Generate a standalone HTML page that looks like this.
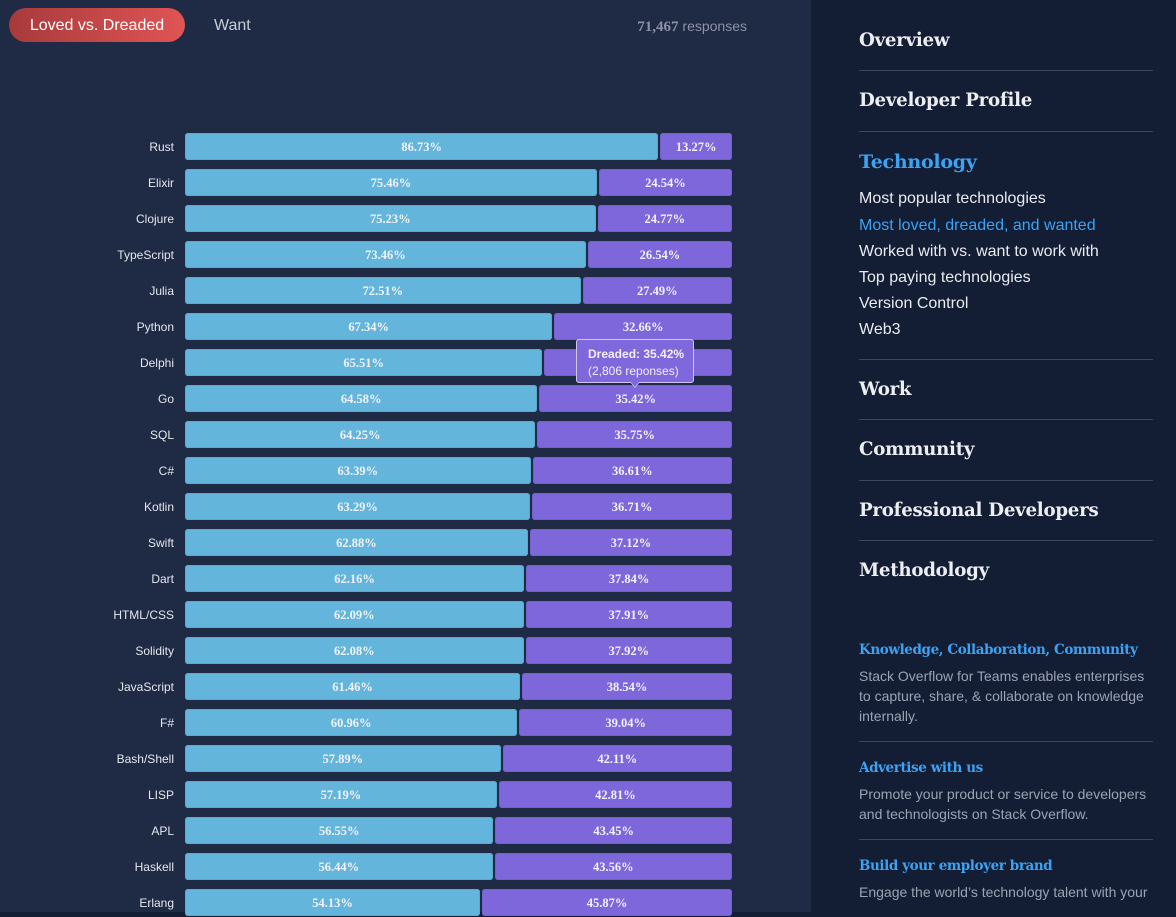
<!DOCTYPE html>
<html><head><meta charset="utf-8">
<style>
*{margin:0;padding:0;box-sizing:border-box}
html,body{width:1176px;height:912px;overflow:hidden;background:#131d34;font-family:"Liberation Sans",sans-serif}
#left{position:absolute;left:0;top:0;width:811px;height:912px;background:#1f2a45}
#right{position:absolute;left:811px;top:0;width:365px;height:912px;background:#131d34}
.pill{position:absolute;left:9px;top:8px;width:176px;height:34px;border-radius:17px;background:linear-gradient(90deg,#a83a3c,#e05454);color:#fff;font-size:16px;line-height:35px;text-align:center}
.want{position:absolute;left:214px;top:8px;line-height:35px;font-size:16px;color:#c9ccd4}
.resp{position:absolute;right:429px;top:16px;line-height:20px;font-size:14px;color:#8b93a4}
.resp b{font-family:"Liberation Serif",serif;font-size:15px}
.r{position:absolute;left:0;height:27px;width:811px}
.lb{position:absolute;left:0;width:174px;text-align:right;font-size:12px;line-height:28px;color:#e4e7ee}
.bars{position:absolute;left:185px;width:547px;height:27px;display:flex}
.lv,.dr{height:27px;border-radius:3px;color:#f2f3f8;font-family:"Liberation Serif",serif;font-weight:bold;font-size:12.5px;line-height:28px;text-align:center;white-space:nowrap;overflow:hidden}
.lv{background:#64b5dc;box-shadow:inset 0 0 0 1px #5aa8d0;margin-right:2px}
.dr{background:#7e67db;box-shadow:inset 0 0 0 1px #7560cc;flex:1}
.tip{position:absolute;left:576px;top:339px;width:118px;height:44px;background:#7f68dc;border:1px solid #cfc7f2;border-radius:3px;color:#f2f0fb;font-size:12px;padding:6px 0 0 11px;line-height:17px}
.tip b{font-weight:bold}
.arr{position:absolute;left:630px;top:382px;width:0;height:0;border-left:5px solid transparent;border-right:5px solid transparent;border-top:6px solid #cfc7f2}
.arr2{position:absolute;left:631px;top:382px;width:0;height:0;border-left:4px solid transparent;border-right:4px solid transparent;border-top:5px solid #7f68dc}
.h{position:absolute;left:859px;font-family:"DejaVu Serif",serif;font-weight:bold;font-size:18.2px;letter-spacing:-0.25px;color:#eceef2;line-height:24px;white-space:nowrap}
.blue{color:#3ca3f4}
.s{position:absolute;left:859px;font-size:16px;line-height:20px;color:#e9ebef;white-space:nowrap}
.hr{position:absolute;left:859px;width:294px;height:1px;background:#3a4762}
.bt{position:absolute;left:859px;font-family:"DejaVu Serif",serif;font-weight:bold;font-size:13.5px;letter-spacing:-0.4px;color:#3ca3f4;line-height:20px;white-space:nowrap}
.d{position:absolute;left:859px;font-size:14px;line-height:20px;color:#9ba3b3;white-space:nowrap}
</style></head><body>
<div id="left"></div><div id="right"></div>
<div class="pill">Loved vs. Dreaded</div>
<div class="want">Want</div>
<div class="resp"><b>71,467</b> responses</div>

<div class="r" style="top:133px"><span class="lb">Rust</span><div class="bars"><div class="lv" style="width:calc(86.73% - 1px)">86.73%</div><div class="dr">13.27%</div></div></div>
<div class="r" style="top:169px"><span class="lb">Elixir</span><div class="bars"><div class="lv" style="width:calc(75.46% - 1px)">75.46%</div><div class="dr">24.54%</div></div></div>
<div class="r" style="top:205px"><span class="lb">Clojure</span><div class="bars"><div class="lv" style="width:calc(75.23% - 1px)">75.23%</div><div class="dr">24.77%</div></div></div>
<div class="r" style="top:241px"><span class="lb">TypeScript</span><div class="bars"><div class="lv" style="width:calc(73.46% - 1px)">73.46%</div><div class="dr">26.54%</div></div></div>
<div class="r" style="top:277px"><span class="lb">Julia</span><div class="bars"><div class="lv" style="width:calc(72.51% - 1px)">72.51%</div><div class="dr">27.49%</div></div></div>
<div class="r" style="top:313px"><span class="lb">Python</span><div class="bars"><div class="lv" style="width:calc(67.34% - 1px)">67.34%</div><div class="dr">32.66%</div></div></div>
<div class="r" style="top:349px"><span class="lb">Delphi</span><div class="bars"><div class="lv" style="width:calc(65.51% - 1px)">65.51%</div><div class="dr">34.49%</div></div></div>
<div class="r" style="top:385px"><span class="lb">Go</span><div class="bars"><div class="lv" style="width:calc(64.58% - 1px)">64.58%</div><div class="dr">35.42%</div></div></div>
<div class="r" style="top:421px"><span class="lb">SQL</span><div class="bars"><div class="lv" style="width:calc(64.25% - 1px)">64.25%</div><div class="dr">35.75%</div></div></div>
<div class="r" style="top:457px"><span class="lb">C#</span><div class="bars"><div class="lv" style="width:calc(63.39% - 1px)">63.39%</div><div class="dr">36.61%</div></div></div>
<div class="r" style="top:493px"><span class="lb">Kotlin</span><div class="bars"><div class="lv" style="width:calc(63.29% - 1px)">63.29%</div><div class="dr">36.71%</div></div></div>
<div class="r" style="top:529px"><span class="lb">Swift</span><div class="bars"><div class="lv" style="width:calc(62.88% - 1px)">62.88%</div><div class="dr">37.12%</div></div></div>
<div class="r" style="top:565px"><span class="lb">Dart</span><div class="bars"><div class="lv" style="width:calc(62.16% - 1px)">62.16%</div><div class="dr">37.84%</div></div></div>
<div class="r" style="top:601px"><span class="lb">HTML/CSS</span><div class="bars"><div class="lv" style="width:calc(62.09% - 1px)">62.09%</div><div class="dr">37.91%</div></div></div>
<div class="r" style="top:637px"><span class="lb">Solidity</span><div class="bars"><div class="lv" style="width:calc(62.08% - 1px)">62.08%</div><div class="dr">37.92%</div></div></div>
<div class="r" style="top:673px"><span class="lb">JavaScript</span><div class="bars"><div class="lv" style="width:calc(61.46% - 1px)">61.46%</div><div class="dr">38.54%</div></div></div>
<div class="r" style="top:709px"><span class="lb">F#</span><div class="bars"><div class="lv" style="width:calc(60.96% - 1px)">60.96%</div><div class="dr">39.04%</div></div></div>
<div class="r" style="top:745px"><span class="lb">Bash/Shell</span><div class="bars"><div class="lv" style="width:calc(57.89% - 1px)">57.89%</div><div class="dr">42.11%</div></div></div>
<div class="r" style="top:781px"><span class="lb">LISP</span><div class="bars"><div class="lv" style="width:calc(57.19% - 1px)">57.19%</div><div class="dr">42.81%</div></div></div>
<div class="r" style="top:817px"><span class="lb">APL</span><div class="bars"><div class="lv" style="width:calc(56.55% - 1px)">56.55%</div><div class="dr">43.45%</div></div></div>
<div class="r" style="top:853px"><span class="lb">Haskell</span><div class="bars"><div class="lv" style="width:calc(56.44% - 1px)">56.44%</div><div class="dr">43.56%</div></div></div>
<div class="r" style="top:889px"><span class="lb">Erlang</span><div class="bars"><div class="lv" style="width:calc(54.13% - 1px)">54.13%</div><div class="dr">45.87%</div></div></div>

<div class="tip"><b>Dreaded: 35.42%</b><br>(2,806 reponses)</div>
<div class="arr"></div><div class="arr2"></div>

<div class="h" style="top:29px">Overview</div>
<div class="hr" style="top:70px"></div>
<div class="h" style="top:89px">Developer Profile</div>
<div class="hr" style="top:131px"></div>
<div class="h blue" style="top:150px;font-size:19px">Technology</div>
<div class="s" style="top:189px">Most popular technologies</div>
<div class="s" style="top:216px;color:#3ca3f4">Most loved, dreaded, and wanted</div>
<div class="s" style="top:242px">Worked with vs. want to work with</div>
<div class="s" style="top:268px">Top paying technologies</div>
<div class="s" style="top:294px">Version Control</div>
<div class="s" style="top:320px">Web3</div>
<div class="hr" style="top:359px"></div>
<div class="h" style="top:378px">Work</div>
<div class="hr" style="top:419px"></div>
<div class="h" style="top:438px">Community</div>
<div class="hr" style="top:480px"></div>
<div class="h" style="top:499px">Professional Developers</div>
<div class="hr" style="top:540px"></div>
<div class="h" style="top:559px">Methodology</div>

<div class="bt" style="top:640px">Knowledge, Collaboration, Community</div>
<div class="d" style="top:666px">Stack Overflow for Teams enables enterprises</div>
<div class="d" style="top:686px">to capture, share, &amp; collaborate on knowledge</div>
<div class="d" style="top:706px">internally.</div>
<div class="hr" style="top:741px"></div>
<div class="bt" style="top:758px">Advertise with us</div>
<div class="d" style="top:784px">Promote your product or service to developers</div>
<div class="d" style="top:804px">and technologists on Stack Overflow.</div>
<div class="hr" style="top:839px"></div>
<div class="bt" style="top:856px">Build your employer brand</div>
<div class="d" style="top:882px">Engage the world’s technology talent with your</div>
</body></html>
